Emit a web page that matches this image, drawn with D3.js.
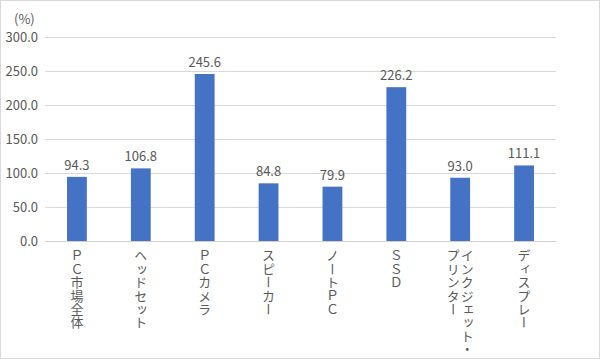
<!DOCTYPE html>
<html><head><meta charset="utf-8">
<script src="https://cdn.jsdelivr.net/npm/d3@7"></script>
<style>body{margin:0;background:#fff}svg{display:block}</style>
</head><body>
<svg id="c" width="600" height="359"></svg>
<script>
const categories = [["ＰＣ市場全体"],["ヘッドセット"],["ＰＣカメラ"],["スピーカー"],["ノートＰＣ"],["ＳＳＤ"],["インクジェット・","プリンター"],["ディスプレー"]];
const values = [94.3,106.8,245.6,84.8,79.9,226.2,93.0,111.1];
const yTicks = [0,50,100,150,200,250,300];
const unitLabel = "(%)";

const svg = d3.select("#c");
const font = "'Noto Sans CJK JP','Noto Sans',sans-serif";
const gray = "#595959";
svg.append("rect").attr("x",0.5).attr("y",0.5).attr("width",599).attr("height",358)
  .attr("fill","#fff").attr("stroke","#d9d9d9");

const mL=45, mR=556, mT=37, mB=241;
const x = d3.scaleBand().domain(d3.range(values.length)).range([mL,mR]).paddingInner(0.69).paddingOuter(0.345);
const y = d3.scaleLinear().domain([0,300]).range([mB,mT]);

const yAxis = d3.axisLeft(y).tickValues(yTicks).tickFormat(d3.format(".1f")).tickSize(-(mR-mL)).tickPadding(7);
const ga = svg.append("g").attr("transform",`translate(${mL},0)`).call(yAxis);
ga.select(".domain").remove();
ga.selectAll(".tick line").attr("stroke","#d9d9d9").attr("stroke-width",1);
ga.selectAll(".tick text").attr("fill",gray).attr("font-size",13).attr("font-family",font).attr("x",-7);

svg.append("text").attr("x",14).attr("y",24).text(unitLabel).attr("fill",gray).attr("font-size",13).attr("font-family",font);

svg.selectAll("rect.bar").data(values).join("rect").attr("class","bar")
  .attr("x",(d,i)=>x(i)).attr("width",x.bandwidth())
  .attr("y",d=>y(d)).attr("height",d=>y(0)-y(d)).attr("fill","#4472c4");

svg.selectAll("text.val").data(values).join("text").attr("class","val")
  .attr("x",(d,i)=>x(i)+x.bandwidth()/2).attr("y",d=>y(d)-7)
  .attr("text-anchor","middle").attr("fill",gray).attr("font-size",13).attr("font-family",font)
  .text(d=>d.toFixed(1));

svg.append("line").attr("x1",mL).attr("x2",mR).attr("y1",y(0)+0.5).attr("y2",y(0)+0.5).attr("stroke","#d0d0d0");

categories.forEach((lines,i)=>{
  const cx = x(i)+x.bandwidth()/2;
  const n = lines.length;
  lines.forEach((line,j)=>{
    const colX = cx + (n-1)*7 - j*14;
    svg.append("text").attr("x",colX).attr("y",y(0)+8)
      .style("writing-mode","vertical-rl").style("letter-spacing","0.4px")
      .attr("fill",gray).attr("font-size",13).attr("font-family",font)
      .text(line);
  });
});
</script>
</body></html>
